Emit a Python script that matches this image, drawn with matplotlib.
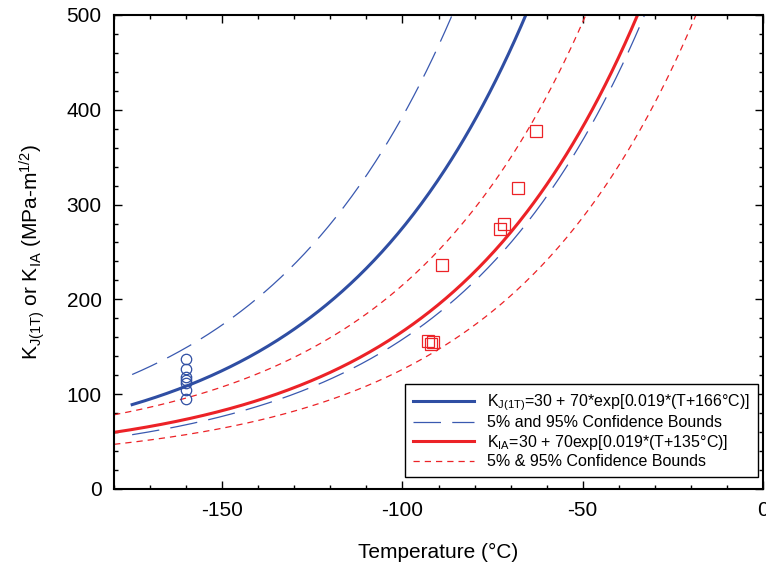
import numpy as np
import matplotlib
matplotlib.use("Agg")
import matplotlib.pyplot as plt

plt.rcParams['font.family'] = ['Liberation Sans', 'DejaVu Sans']
plt.rcParams['mathtext.fontset'] = 'custom'
plt.rcParams['mathtext.rm'] = 'Liberation Sans'
plt.rcParams['mathtext.it'] = 'Liberation Sans'
plt.rcParams['axes.unicode_minus'] = False

# Master-curve model parameters read from the legend / picture
# K = a + b*exp(0.019*(T - T0))
kj_T0 = -166.0
kj_median = (30.0, 70.0)
kj_lower = (25.4, 37.8)
kj_upper = (34.6, 102.2)
kj_Tstart = -175.0

kia_T0 = -135.0
kia_median = (30.0, 70.0)
kia_lower = (25.0, 52.0)
kia_upper = (40.0, 90.0)
kia_Tstart = -180.0

# Test data
kj_T = [-160, -160, -160, -160, -160, -160, -160]
kj_K = [137, 127, 118, 115, 112, 104, 95]
kia_T = [-93.0, -92.2, -91.5, -89.0, -73.0, -71.9, -67.9, -62.9]
kia_K = [156, 153, 155, 236, 274, 280, 318, 378]

blue = '#2f4ea3'
blue_d = '#3a59b0'
red = '#ec2227'
red_d = '#ec2227'

def curve(params, T0, T):
    a, b = params
    return a + b * np.exp(0.019 * (T - T0))

fig = plt.figure(figsize=(7.66, 5.67), dpi=100)
ax = fig.add_axes([0.149, 0.1376, 0.847, 0.836])

Tb = np.linspace(kj_Tstart, 0, 400)
Tr = np.linspace(kia_Tstart, 0, 400)

l1, = ax.plot(Tb, curve(kj_median, kj_T0, Tb), color=blue, lw=2.2)
l2, = ax.plot(Tb, curve(kj_upper, kj_T0, Tb), color=blue_d, lw=0.9, dashes=(22, 9))
ax.plot(Tb, curve(kj_lower, kj_T0, Tb), color=blue_d, lw=0.9, dashes=(22, 9))
l3, = ax.plot(Tr, curve(kia_median, kia_T0, Tr), color=red, lw=2.2)
l4, = ax.plot(Tr, curve(kia_upper, kia_T0, Tr), color=red_d, lw=0.9, dashes=(5, 4))
ax.plot(Tr, curve(kia_lower, kia_T0, Tr), color=red_d, lw=0.9, dashes=(5, 4))

ax.plot(kj_T, kj_K, 'o', mfc='none', mec=blue, ms=7.5, mew=0.9)
ax.plot(kia_T, kia_K, 's', mfc='none', mec=red, ms=8, mew=0.9)

ax.set_xlim(-180, 0)
ax.set_ylim(0, 500)
ax.set_xticks([-150, -100, -50, 0])
ax.set_xticks(np.arange(-180, 1, 10), minor=True)
ax.set_yticks([0, 100, 200, 300, 400, 500])
ax.set_yticks(np.arange(0, 501, 20), minor=True)
ax.tick_params(which='both', direction='in', top=True, right=True, labelsize=15, width=1)
ax.tick_params(which='major', length=6, pad=9)
ax.tick_params(which='minor', length=3)
for s in ax.spines.values():
    s.set_linewidth(1.5)

ax.set_xlabel('Temperature (\u00b0C)', fontsize=15, labelpad=16)
ax.set_ylabel(r'K$_{\mathrm{J(1T)}}$ or K$_{\mathrm{IA}}$ (MPa-m$^{\mathrm{1/2}}$)', fontsize=15, labelpad=14)

labels = [r'K$_{\mathrm{J(1T)}}$=30 + 70*exp[0.019*(T+166°C)]',
          '5% and 95% Confidence Bounds',
          r'K$_{\mathrm{IA}}$=30 + 70exp[0.019*(T+135°C)]',
          '5% & 95% Confidence Bounds']
leg = ax.legend([l1, l2, l3, l4], labels, loc='lower right',
                bbox_to_anchor=(0.992, 0.025), borderaxespad=0,
                fontsize=11.5, fancybox=False, framealpha=1,
                handlelength=3.8, labelspacing=0.15, handletextpad=0.8,
                borderpad=0.5)
leg.get_frame().set_edgecolor('black')
leg.get_frame().set_linewidth(1.0)

fig.savefig('out.png', dpi=100)
